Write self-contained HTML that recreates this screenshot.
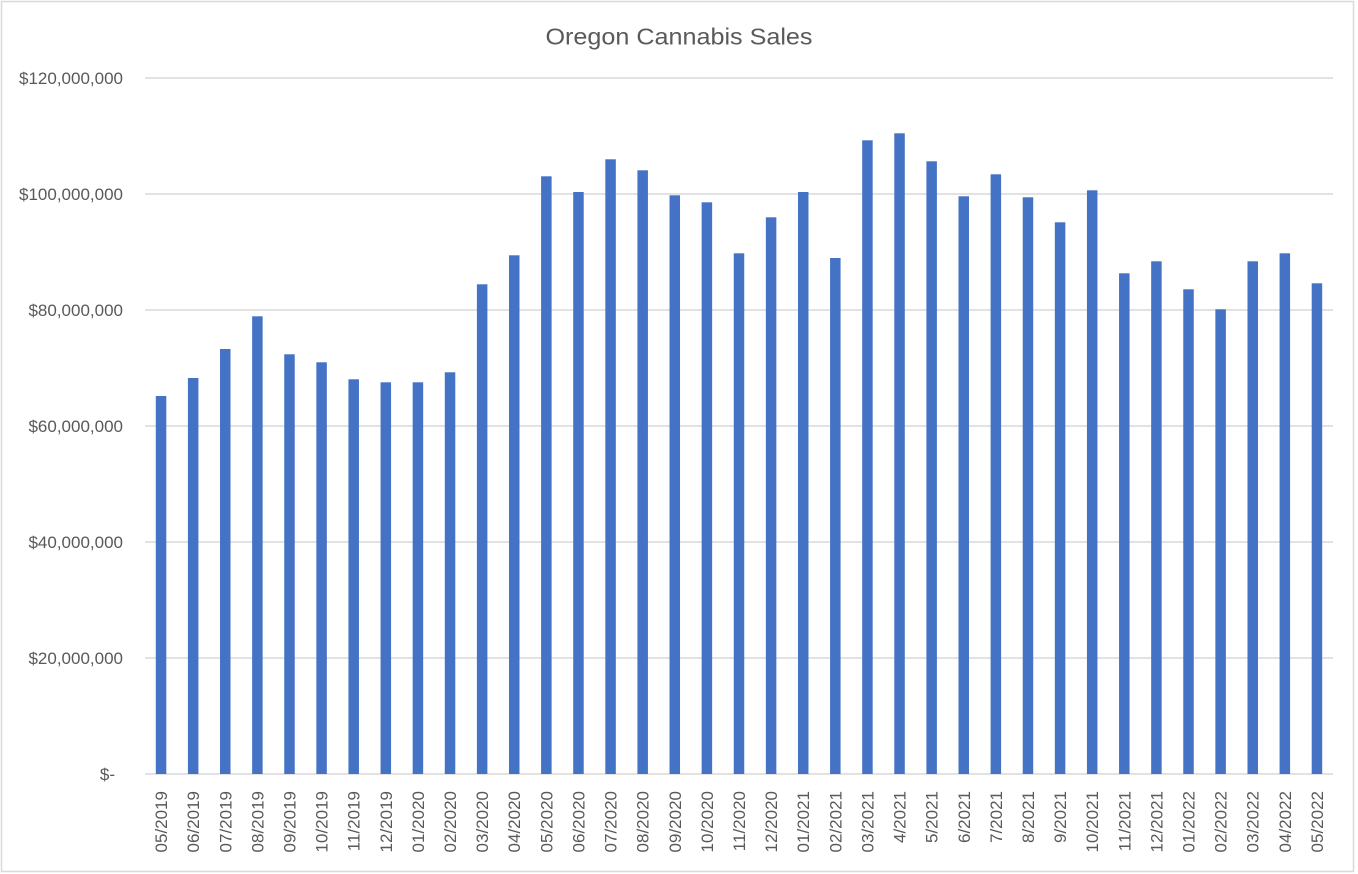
<!DOCTYPE html>
<html><head><meta charset="utf-8"><style>
html,body{margin:0;padding:0;background:#fff;}
svg{display:block;}
text{font-family:"Liberation Sans",sans-serif;fill:#595959;}
</style></head><body>
<svg width="1358" height="874" viewBox="0 0 1358 874" xmlns="http://www.w3.org/2000/svg">
<rect x="1.5" y="1.5" width="1352" height="870" fill="#fff" stroke="#d9d9d9" stroke-width="1.5"/>
<text x="679" y="44.5" font-size="23" text-anchor="middle" textLength="267" lengthAdjust="spacingAndGlyphs">Oregon Cannabis Sales</text>
<g stroke="#d9d9d9" stroke-width="1.5">
<line x1="145" y1="78" x2="1333" y2="78"/>
<line x1="145" y1="194" x2="1333" y2="194"/>
<line x1="145" y1="310" x2="1333" y2="310"/>
<line x1="145" y1="426" x2="1333" y2="426"/>
<line x1="145" y1="542" x2="1333" y2="542"/>
<line x1="145" y1="658" x2="1333" y2="658"/>
<line x1="145" y1="774" x2="1333" y2="774"/>
</g>
<g font-size="17" text-anchor="end">
<text x="123" y="84">$120,000,000</text>
<text x="123" y="200">$100,000,000</text>
<text x="123" y="316">$80,000,000</text>
<text x="123" y="432">$60,000,000</text>
<text x="123" y="548">$40,000,000</text>
<text x="123" y="664">$20,000,000</text>
<text x="115" y="780">$-</text>
</g>
<g id="bars" fill="#4472C4"></g>
<g id="labels" font-size="17" text-anchor="end"></g>
<script>
var tops=[396,378,349,316.3,354.3,362.3,379.3,382.3,382.3,372.3,284.3,255.3,176.3,192,159.3,170.3,195.3,202.3,253.3,217.3,192,258,140.3,133.3,161.3,196.3,174.3,197.3,222.3,190.3,273.3,261.3,289.3,309.3,261.3,253.3,283.3];
var labs=["05/2019","06/2019","07/2019","08/2019","09/2019","10/2019","11/2019","12/2019","01/2020","02/2020","03/2020","04/2020","05/2020","06/2020","07/2020","08/2020","09/2020","10/2020","11/2020","12/2020","01/2021","02/2021","03/2021","4/2021","5/2021","6/2021","7/2021","8/2021","9/2021","10/2021","11/2021","12/2021","01/2022","02/2022","03/2022","04/2022","05/2022"];
var ns="http://www.w3.org/2000/svg";
var gb=document.getElementById("bars"),gl=document.getElementById("labels");
var step=(1333-145)/37;
for(var i=0;i<37;i++){
 var cx=145+step*(i+0.5);
 var r=document.createElementNS(ns,"rect");
 r.setAttribute("x",(cx-5.25).toFixed(2));
 r.setAttribute("y",tops[i]);
 r.setAttribute("width","10.5");
 r.setAttribute("height",(774-tops[i]).toFixed(2));
 gb.appendChild(r);
 var t=document.createElementNS(ns,"text");
 var tx=cx+6;
 t.setAttribute("x",0);t.setAttribute("y",0);
 t.setAttribute("transform","translate("+tx.toFixed(2)+",791) rotate(-90)");
 t.textContent=labs[i];
 gl.appendChild(t);
}
</script>
</svg>
</body></html>
